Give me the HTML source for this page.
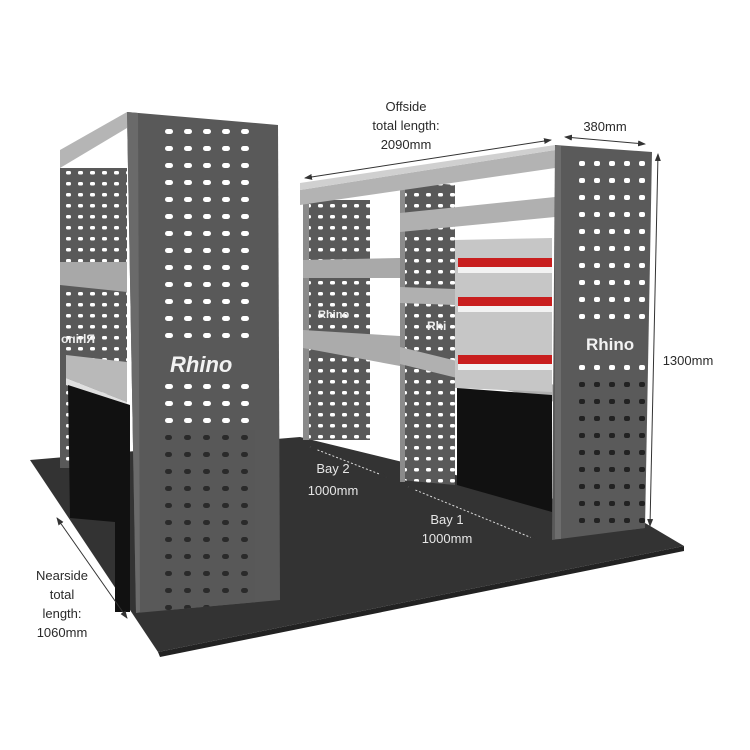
<!DOCTYPE html>
<html><head><meta charset="utf-8"><style>
html,body{margin:0;padding:0;background:#fff;}
svg{display:block;}
text{font-family:"Liberation Sans",sans-serif;fill:#2a2a2a;}
</style></head><body>
<svg width="750" height="750" viewBox="0 0 750 750" xmlns="http://www.w3.org/2000/svg">
<defs>
<clipPath id="cn"><polygon points="127,112 278,125 280,600 136,613"/></clipPath>
<clipPath id="co"><polygon points="555,145 652,152 645,528 552,540"/></clipPath>
<pattern id="h1" width="19" height="17" patternUnits="userSpaceOnUse" x="160" y="4">
<rect width="19" height="17" fill="#595959"/><rect x="5" y="6" width="8" height="5" rx="2.5" fill="#fff"/></pattern>
<pattern id="h2" width="12" height="11" patternUnits="userSpaceOnUse" x="2" y="2">
<rect width="12" height="11" fill="#595959"/><rect x="4" y="4" width="5" height="3.5" rx="1.5" fill="#fff"/></pattern>
<pattern id="h3" width="19" height="17" patternUnits="userSpaceOnUse" x="160" y="4">
<rect width="19" height="17" fill="#585858"/><rect x="5" y="6" width="7" height="5" rx="2.5" fill="#2a2a2a"/></pattern>
<pattern id="h4" width="15" height="17" patternUnits="userSpaceOnUse" x="575" y="2">
<rect width="15" height="17" fill="#5a5a5a"/><rect x="4" y="6" width="6" height="5" rx="2" fill="#fff"/></pattern>
<pattern id="h5" width="15" height="17" patternUnits="userSpaceOnUse" x="575" y="2">
<rect width="15" height="17" fill="#5a5a5a"/><rect x="4" y="6" width="6" height="5" rx="2" fill="#222"/></pattern>
<marker id="a" markerWidth="8" markerHeight="8" refX="7" refY="4" orient="auto-start-reverse" markerUnits="userSpaceOnUse"><path d="M0,1 L8,4 L0,7 z" fill="#333"/></marker>
</defs>

<!-- floor -->
<polygon points="30,460 300,437 640,520 684,546 158,652" fill="#333"/>
<polygon points="158,652 684,546 684,551 160,657" fill="#222"/>

<!-- nearside back structure -->
<polygon points="60,150 127,112 127,128 60,168" fill="#b5b5b5"/>
<rect x="60" y="168" width="67" height="300" fill="url(#h2)"/>
<polygon points="60,262 127,262 127,292 60,285" fill="#a8a8a8"/>
<polygon points="66,355 127,362 127,402 66,378" fill="#b9b9b9"/>
<polygon points="66,378 127,402 127,408 66,385" fill="#e0e0e0"/>
<polygon points="68,385 130,405 130,612 115,612 115,522 70,518" fill="#111"/>
<text x="95" y="343" font-size="12" font-weight="bold" style="fill:#eee" transform="scale(-1,1) translate(-190,0)">Rhino</text>

<!-- nearside front end panel -->
<polygon points="127,112 278,125 280,600 136,613" fill="#595959"/>
<g clip-path="url(#cn)">
<rect x="160" y="125" width="95" height="305" fill="url(#h1)"/>
<rect x="160" y="430" width="95" height="180" fill="url(#h3)"/>
<rect x="145" y="340" width="120" height="40" fill="#595959"/>
</g>
<polygon points="127,112 138,113 140,612 136,613" fill="#6a6a6a"/>
<text x="170" y="372" font-size="22" font-weight="bold" font-style="italic" style="fill:#f2f2f2">Rhino</text>

<!-- offside unit: left end panel -->
<rect x="303" y="200" width="67" height="240" fill="url(#h2)"/>
<rect x="303" y="200" width="6" height="240" fill="#8a8a8a"/>
<!-- middle divider -->
<polygon points="400,180 455,185 455,485 400,480" fill="url(#h2)"/>
<rect x="400" y="182" width="5" height="300" fill="#8a8a8a"/>
<!-- top beam -->
<polygon points="300,190 555,150 555,168 300,205" fill="#b3b3b3"/>
<polygon points="300,183 555,145 555,150 300,190" fill="#d0d0d0"/>
<!-- bay2 shelves -->
<polygon points="303,260 400,258 400,278 303,278" fill="#a9a9a9"/>
<polygon points="303,330 400,336 400,366 303,348" fill="#ababab"/>
<!-- bay1 shelves -->
<polygon points="400,213 555,197 555,217 400,232" fill="#b0b0b0"/>
<polygon points="400,287 455,289 455,305 400,303" fill="#b0b0b0"/>
<polygon points="400,347 555,385 555,402 400,364" fill="#b0b0b0"/>
<!-- drawers -->
<polygon points="455,240 552,238 552,392 455,388" fill="#c6c6c6"/>
<rect x="458" y="258" width="94" height="9" fill="#c81e1e"/>
<rect x="458" y="267" width="94" height="6" fill="#f2f2f2"/>
<rect x="458" y="297" width="94" height="9" fill="#c81e1e"/>
<rect x="458" y="306" width="94" height="6" fill="#f2f2f2"/>
<rect x="458" y="355" width="94" height="9" fill="#c81e1e"/>
<rect x="458" y="364" width="94" height="6" fill="#f2f2f2"/>
<!-- black opening -->
<polygon points="457,388 552,395 552,512 457,485" fill="#111"/>
<text x="427" y="330" font-size="12" font-weight="bold" style="fill:#eee">Rhi</text>
<text x="318" y="318" font-size="11" font-weight="bold" style="fill:#eee">Rhino</text>

<!-- right end panel -->
<polygon points="555,145 652,152 645,528 552,540" fill="#5a5a5a"/>
<g clip-path="url(#co)">
<rect x="575" y="155" width="70" height="225" fill="url(#h4)"/>
<rect x="575" y="380" width="70" height="150" fill="url(#h5)"/>
<rect x="575" y="325" width="70" height="36" fill="#5a5a5a"/>
</g>
<rect x="555" y="146" width="6" height="393" fill="#6d6d6d"/>
<text x="586" y="350" font-size="17" font-weight="bold" style="fill:#f2f2f2">Rhino</text>

<!-- dimension lines -->
<g stroke="#333" stroke-width="1" fill="none">
<line x1="305" y1="178" x2="551" y2="140" marker-start="url(#a)" marker-end="url(#a)"/>
<line x1="565" y1="137" x2="645" y2="144" marker-start="url(#a)" marker-end="url(#a)"/>
<line x1="658" y1="154" x2="650" y2="526" marker-start="url(#a)" marker-end="url(#a)"/>
<line x1="57" y1="518" x2="127" y2="618" marker-start="url(#a)" marker-end="url(#a)"/>
</g>
<g stroke="#ddd" stroke-width="1" stroke-dasharray="2,2" fill="none">
<line x1="310" y1="447" x2="387" y2="477" marker-start="url(#a)" marker-end="url(#a)"/>
<line x1="408" y1="487" x2="537" y2="540" marker-start="url(#a)" marker-end="url(#a)"/>
</g>

<!-- labels -->
<g font-size="13" text-anchor="middle">
<text x="406" y="111">Offside</text>
<text x="406" y="130">total length:</text>
<text x="406" y="149">2090mm</text>
<text x="605" y="131">380mm</text>
<text x="688" y="365">1300mm</text>
<text x="62" y="580">Nearside</text>
<text x="62" y="599">total</text>
<text x="62" y="618">length:</text>
<text x="62" y="637">1060mm</text>
<text x="333" y="473" style="fill:#e6e6e6">Bay 2</text>
<text x="333" y="495" style="fill:#e6e6e6">1000mm</text>
<text x="447" y="524" style="fill:#e6e6e6">Bay 1</text>
<text x="447" y="543" style="fill:#e6e6e6">1000mm</text>
</g>
</svg>
</body></html>
